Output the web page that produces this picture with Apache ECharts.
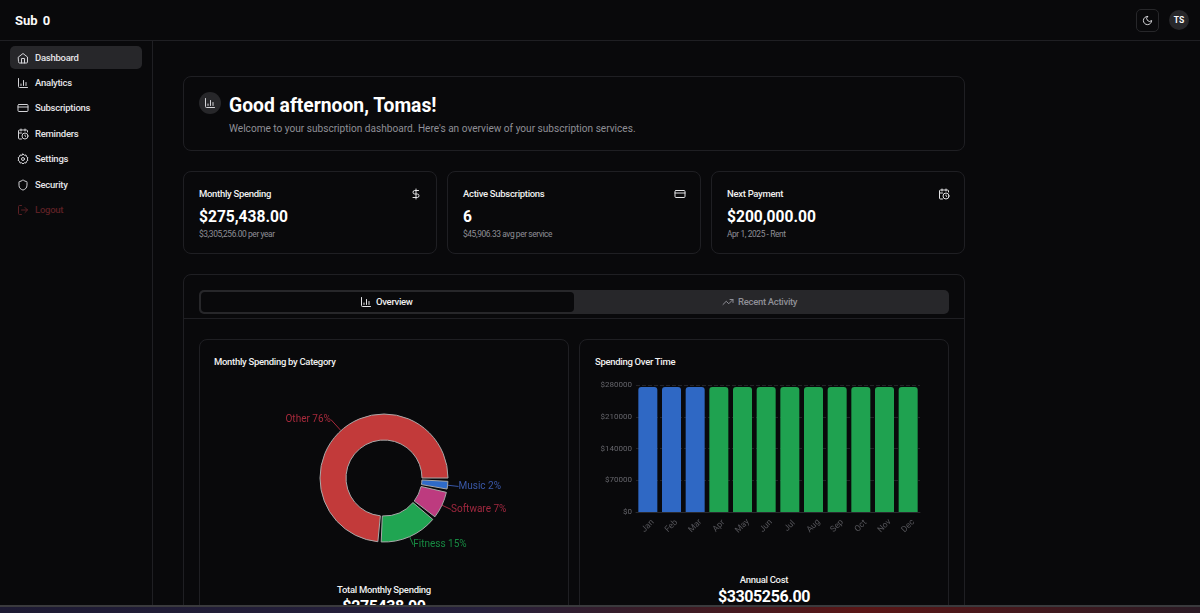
<!DOCTYPE html>
<html lang="en">
<head>
<meta charset="UTF-8">
<title>Sub 0 Dashboard</title>
<script src="https://cdn.jsdelivr.net/npm/echarts@6/dist/echarts.min.js"></script>
<style>
    html, body { margin: 0; width: 1200px; height: 613px; overflow: hidden; background: #09090b; color: #fafafa; font-family: Roboto, "Noto Sans", sans-serif; }
    .abs, .card, .text, svg.ic { position: absolute; }
    .card { box-sizing: border-box; border: 1px solid #1f1f23; border-radius: 8px; }
    .text { white-space: nowrap; line-height: 1; }
    svg.ic { fill: none; stroke: currentColor; stroke-width: 2; stroke-linecap: round; stroke-linejoin: round; }
    .nav { font-size: 9.5px; font-weight: 500; color: #e4e4e7; left: 35px; letter-spacing: -0.25px; }
    .label { font-size: 9.5px; font-weight: 500; color: #f0f0f0; letter-spacing: -0.3px; }
    .big { font-size: 15.6px; font-weight: 700; color: #fff; }
    .small { font-size: 8.4px; color: #8f8f96; letter-spacing: -0.4px; }
    .total { font-size: 16px; font-weight: 700; color: #fff; letter-spacing: -0.4px; text-align: center; width: 370px; }
</style>
</head>
<body>
<svg width="0" height="0" style="position:absolute">
    <symbol id="i-home" viewBox="0 0 24 24"><path d="M3 10l9-7 9 7v10a2 2 0 0 1-2 2H5a2 2 0 0 1-2-2z"/><path d="M9 22v-9h6v9"/></symbol>
    <symbol id="i-bars" viewBox="0 0 24 24"><path d="M3 3v16a2 2 0 0 0 2 2h16"/><path d="M8 17v-3"/><path d="M13 17V7"/><path d="M18 17v-6"/></symbol>
    <symbol id="i-card" viewBox="0 0 24 24"><rect x="2" y="5" width="20" height="14" rx="2"/><path d="M2 10h20"/></symbol>
    <symbol id="i-cal" viewBox="0 0 24 24"><path d="M21 8V6a2 2 0 0 0-2-2H5a2 2 0 0 0-2 2v14a2 2 0 0 0 2 2h4"/><path d="M16 2v4M8 2v4M3 10h6"/><circle cx="16" cy="16" r="6"/><path d="M16 14v2l1 1"/></symbol>
    <symbol id="i-gear" viewBox="0 0 24 24"><path d="M12 2l2.500 2.500 3.500-.5 1 3.500 3 2L20.500 12l1.500 2.500-3 2-1 3.500-3.500-.5L12 22l-2.500-2.500-3.500.5-1-3.500-3-2L3.500 12 2 9.500l3-2 1-3.500 3.500.5z"/><circle cx="12" cy="12" r="3"/></symbol>
    <symbol id="i-shield" viewBox="0 0 24 24"><path d="M20 13c0 5-3.500 7.500-7.700 9a1 1 0 0 1-.6 0C7.500 20.500 4 18 4 13V6a1 1 0 0 1 1-1c2 0 4.500-1.200 6.200-2.700a1 1 0 0 1 1.600 0C14.500 3.800 17 5 19 5a1 1 0 0 1 1 1z"/></symbol>
    <symbol id="i-out" viewBox="0 0 24 24"><path d="M9 21H5a2 2 0 0 1-2-2V5a2 2 0 0 1 2-2h4"/><path d="M16 17l5-5-5-5"/><path d="M21 12H9"/></symbol>
    <symbol id="i-moon" viewBox="0 0 24 24"><path d="M12 3a6 6 0 0 0 9 9 9 9 0 1 1-9-9z"/></symbol>
    <symbol id="i-dollar" viewBox="0 0 24 24"><path d="M12 2v20"/><path d="M17 5H9.500a3.500 3.500 0 0 0 0 7h5a3.500 3.500 0 0 1 0 7H6"/></symbol>
    <symbol id="i-trend" viewBox="0 0 24 24"><path d="M22 7l-8.500 8.500-5-5L2 17"/><path d="M16 7h6v6"/></symbol>
</svg>

<!-- header and sidebar -->
<div class="abs" style="left:0;top:40px;width:1200px;height:1px;background:#1f1f23"></div>
<div class="abs" style="left:152px;top:41px;width:1px;height:572px;background:#1f1f23"></div>
<div class="text" style="left:15px;top:14px;font-size:13px;font-weight:700;word-spacing:2px">Sub 0</div>
<div class="card" style="left:1136px;top:9px;width:23px;height:23px;border-radius:5px;border-color:#27272a"></div>
<svg class="ic" style="left:1142px;top:15px;color:#e4e4e7" width="11" height="11"><use href="#i-moon"/></svg>
<div class="abs" style="left:1169px;top:10px;width:20px;height:20px;border-radius:50%;background:#27272a"></div>
<div class="text" style="left:1169px;top:16px;width:20px;text-align:center;font-size:8.500px;font-weight:700">TS</div>

<div class="abs" style="left:10px;top:46px;width:132px;height:23px;border-radius:5px;background:#27272a"></div>
<svg class="ic" style="left:17px;top:52px;color:#d4d4d8" width="12" height="12"><use href="#i-home"/></svg>
<div class="text nav" style="top:53px">Dashboard</div>
<svg class="ic" style="left:17px;top:77px;color:#d4d4d8" width="12" height="12"><use href="#i-bars"/></svg>
<div class="text nav" style="top:78px">Analytics</div>
<svg class="ic" style="left:17px;top:102px;color:#d4d4d8" width="12" height="12"><use href="#i-card"/></svg>
<div class="text nav" style="top:103px">Subscriptions</div>
<svg class="ic" style="left:17px;top:128px;color:#d4d4d8" width="12" height="12"><use href="#i-cal"/></svg>
<div class="text nav" style="top:129px">Reminders</div>
<svg class="ic" style="left:17px;top:153px;color:#d4d4d8" width="12" height="12"><use href="#i-gear"/></svg>
<div class="text nav" style="top:154px">Settings</div>
<svg class="ic" style="left:17px;top:179px;color:#d4d4d8" width="12" height="12"><use href="#i-shield"/></svg>
<div class="text nav" style="top:180px">Security</div>
<svg class="ic" style="left:17px;top:204px;color:#5c2024" width="12" height="12"><use href="#i-out"/></svg>
<div class="text nav" style="top:205px;color:#5c2024">Logout</div>

<!-- welcome card -->
<div class="card" style="left:183px;top:76px;width:782px;height:75px"></div>
<div class="abs" style="left:199px;top:92px;width:22px;height:22px;border-radius:50%;background:#27272a"></div>
<svg class="ic" style="left:204px;top:97px;color:#d4d4d8" width="12" height="12"><use href="#i-bars"/></svg>
<div class="text" style="left:229px;top:96px;font-size:19.300px;font-weight:700;color:#fff">Good afternoon, Tomas!</div>
<div class="text" style="left:229px;top:124px;font-size:10.100px;color:#8f8f96">Welcome to your subscription dashboard. Here's an overview of your subscription services.</div>

<!-- stat cards -->
<div class="card" style="left:183px;top:171px;width:254px;height:83px"></div>
<div class="text label" style="left:199px;top:189px">Monthly Spending</div>
<svg class="ic" style="left:410px;top:188px;color:#e4e4e7" width="12" height="12"><use href="#i-dollar"/></svg>
<div class="text big" style="left:199px;top:210px">$275,438.00</div>
<div class="text small" style="left:199px;top:230px">$3,305,256.00 per year</div>

<div class="card" style="left:447px;top:171px;width:254px;height:83px"></div>
<div class="text label" style="left:463px;top:189px">Active Subscriptions</div>
<svg class="ic" style="left:674px;top:188px;color:#e4e4e7" width="12" height="12"><use href="#i-card"/></svg>
<div class="text big" style="left:463px;top:210px">6</div>
<div class="text small" style="left:463px;top:230px">$45,906.33 avg per service</div>

<div class="card" style="left:711px;top:171px;width:254px;height:83px"></div>
<div class="text label" style="left:727px;top:189px">Next Payment</div>
<svg class="ic" style="left:938px;top:188px;color:#e4e4e7" width="12" height="12"><use href="#i-cal"/></svg>
<div class="text big" style="left:727px;top:210px">$200,000.00</div>
<div class="text small" style="left:727px;top:230px">Apr 1, 2025 - Rent</div>

<!-- tabs panel -->
<div class="card" style="left:183px;top:274px;width:782px;height:360px"></div>
<div class="abs" style="left:199px;top:290px;width:750px;height:24px;border-radius:5px;background:#27272a"></div>
<div class="abs" style="left:201px;top:292px;width:373px;height:20px;border-radius:4px;background:#09090b"></div>
<svg class="ic" style="left:360px;top:296px;color:#e4e4e7" width="12" height="12"><use href="#i-bars"/></svg>
<div class="text label" style="left:376px;top:297px">Overview</div>
<svg class="ic" style="left:722px;top:296px;color:#8f8f96" width="12" height="12"><use href="#i-trend"/></svg>
<div class="text label" style="left:738px;top:297px;color:#8f8f96">Recent Activity</div>
<div class="abs" style="left:184px;top:318px;width:780px;height:1px;background:#1f1f23"></div>

<!-- chart cards -->
<div class="card" style="left:199px;top:339px;width:370px;height:300px"></div>
<div class="text label" style="left:214px;top:357px">Monthly Spending by Category</div>
<div class="abs" id="pieChart" style="left:200px;top:380px;width:368px;height:190px"></div>
<div class="text label" style="left:199px;width:370px;text-align:center;top:585px">Total Monthly Spending</div>
<div class="text total" style="left:199px;top:599px">$275438.00</div>

<div class="card" style="left:579px;top:339px;width:370px;height:300px"></div>
<div class="text label" style="left:595px;top:357px">Spending Over Time</div>
<div class="abs" id="barChart" style="left:580px;top:370px;width:368px;height:195px"></div>
<div class="text label" style="left:579px;width:370px;text-align:center;top:575px">Annual Cost</div>
<div class="text total" style="left:579px;top:589px">$3305256.00</div>

<!-- desktop strip along the bottom of the screenshot -->
<div class="abs" style="left:0;top:605px;width:1200px;height:2px;background:#3a3a3d"></div>
<div class="abs" style="left:0;top:607px;width:1200px;height:6px;background:linear-gradient(90deg,#1d1a33 0%,#26203c 40%,#3a1c26 55%,#5a1616 72%,#2a1a24 100%)"></div>

<script>
    var categories = ['Other', 'Fitness', 'Software', 'Music'];
    var categoryShares = [76, 15, 7, 2];
    var months = ['Jan', 'Feb', 'Mar', 'Apr', 'May', 'Jun', 'Jul', 'Aug', 'Sep', 'Oct', 'Nov', 'Dec'];
    var pastSpending = [275438, 275438, 275438, null, null, null, null, null, null, null, null, null];
    var futureSpending = [null, null, null, 275438, 275438, 275438, 275438, 275438, 275438, 275438, 275438, 275438];
    var yTicks = { min: 0, max: 280000, interval: 70000 };

    var sliceColors = ['#c23a3a', '#20a552', '#bd3b7f', '#2f6bc9'];
    var labelColors = ['#a82a3c', '#178a42', '#a0283f', '#3a58a8'];
    var lineLengths = [15, 9, 10, 11];

    // ref keeps proportional slices with a 3 degree gap, padAngle eats into small slices
    // so the gaps are empty slices between the real ones (0.86 of 100 share = 3 degrees)
    var gapShare = 0.86;
    var pieData = [];
    categories.forEach(function (name, i) {
        pieData.push({
            name: name,
            value: categoryShares[i],
            itemStyle: { color: sliceColors[i], borderColor: '#a8a8a8', borderWidth: 1 },
            label: { show: true, color: labelColors[i] },
            labelLine: { show: true, length: lineLengths[i], length2: 0, lineStyle: { color: labelColors[i], width: 1 } }
        });
        pieData.push({
            name: '',
            value: gapShare,
            silent: true,
            itemStyle: { color: 'transparent', borderWidth: 0 },
            label: { show: false },
            labelLine: { show: false }
        });
    });

    var pieChart = echarts.init(document.getElementById('pieChart'));
    pieChart.setOption({
        animation: false,
        series: [{
            type: 'pie',
            center: [184, 98],
            radius: [38, 64],
            startAngle: 0,
            clockwise: false,
            avoidLabelOverlap: false,
            label: {
                formatter: function (p) { return p.name + ' ' + p.value + '%'; },
                fontFamily: 'Roboto',
                fontSize: 10,
                distanceToLabelLine: 0
            },
            data: pieData
        }]
    });

    var barChart = echarts.init(document.getElementById('barChart'));
    function barSeries(values, color) {
        return {
            type: 'bar',
            data: values,
            barWidth: 19,
            barGap: '-100%',
            itemStyle: { color: color, borderRadius: [3, 3, 0, 0] }
        };
    }
    barChart.setOption({
        animation: false,
        grid: { left: 56, right: 28, top: 15, height: 127 },
        xAxis: {
            type: 'category',
            data: months,
            axisLine: { lineStyle: { color: '#2a2a2e' } },
            axisTick: { show: false },
            axisLabel: { rotate: 45, align: 'center', verticalAlign: 'middle', margin: 14, color: '#55555a', fontSize: 8.5, fontFamily: 'Roboto', interval: 0 }
        },
        yAxis: {
            type: 'value',
            min: yTicks.min,
            max: yTicks.max,
            interval: yTicks.interval,
            axisLine: { show: false },
            axisTick: { show: false },
            splitLine: { lineStyle: { color: '#232327', type: 'dashed' } },
            axisLabel: { margin: 4, color: '#66666c', fontSize: 8, fontFamily: 'Roboto', formatter: function (v) { return '$' + v; } }
        },
        series: [barSeries(pastSpending, '#2f68c4'), barSeries(futureSpending, '#1fa250')]
    });
</script>
</body>
</html>
